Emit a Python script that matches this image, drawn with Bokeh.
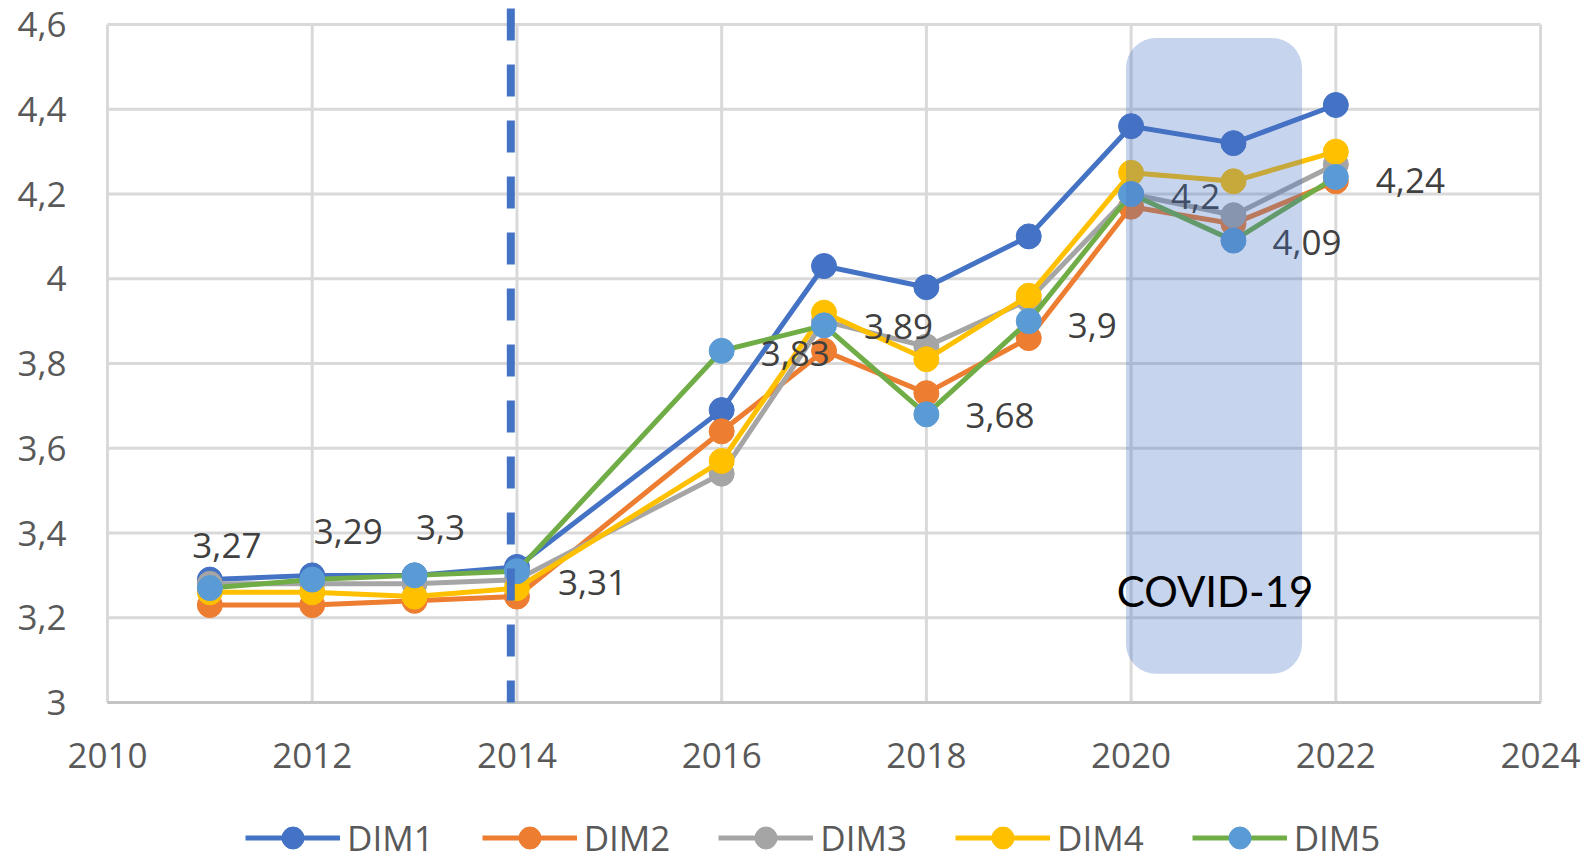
from bokeh.plotting import figure
from bokeh.models import (Range1d, FixedTicker, CustomJSTickFormatter, LinearAxis,
                          BoxAnnotation, Label, Legend, LegendItem, ColumnDataSource)
from bokeh.embed import file_html
from bokeh.resources import INLINE
from bokeh.core.properties import value

# ---------------- data ----------------
years = [2011, 2012, 2013, 2014, 2016, 2017, 2018, 2019, 2020, 2021, 2022]
dim1 = [3.29, 3.30, 3.30, 3.32, 3.69, 4.03, 3.98, 4.10, 4.36, 4.32, 4.41]
dim2 = [3.23, 3.23, 3.24, 3.25, 3.64, 3.83, 3.73, 3.86, 4.17, 4.13, 4.23]
dim3 = [3.28, 3.28, 3.28, 3.29, 3.54, 3.90, 3.84, 3.95, 4.20, 4.15, 4.27]
dim4 = [3.26, 3.26, 3.25, 3.27, 3.57, 3.92, 3.81, 3.96, 4.25, 4.23, 4.30]
dim5 = [3.27, 3.29, 3.30, 3.31, 3.83, 3.89, 3.68, 3.90, 4.20, 4.09, 4.24]
series_names = ["DIM1", "DIM2", "DIM3", "DIM4", "DIM5"]
x_ticks = [2010, 2012, 2014, 2016, 2018, 2020, 2022, 2024]
y_ticks = [3.0, 3.2, 3.4, 3.6, 3.8, 4.0, 4.2, 4.4, 4.6]
marker_year = 2014
covid_start, covid_end = 2019.95, 2021.67
covid_bottom, covid_top = 3.068, 4.568
covid_label = "COVID-19"

# ---------------- style ----------------
line_colors = ["#4472C4", "#ED7D31", "#A5A5A5", "#FFC000", "#70AD47"]
marker_colors = ["#4472C4", "#ED7D31", "#A5A5A5", "#FFC000", "#5B9BD5"]
FONT = "Open Sans"
W, H = 1589, 862
PX_X = 102.36   # px per year
PX_Y = 423.75   # px per unit
X0, Y0_TOP, Y0_BOT = 107, 24, 702   # page px of 2010, 4.6 and 3.0

x_lo = x_ticks[0] - X0 / PX_X
x_hi = x_ticks[0] + (W - X0) / PX_X
y_hi = y_ticks[-1] + Y0_TOP / PX_Y
y_lo = y_ticks[0] - (H - Y0_BOT) / PX_Y

p = figure(width=W, height=H, output_backend="svg", toolbar_location=None,
           x_range=Range1d(x_lo, x_hi), y_range=Range1d(y_lo, y_hi),
           x_axis_location=None, y_axis_location=None,
           min_border_left=0, min_border_right=0, min_border_top=0,
           min_border_bottom=0)
p.outline_line_color = None
p.xgrid.visible = False
p.ygrid.visible = False

# grid lines (segments so they stop at the 3..4.6 / 2010..2024 box)
p.segment(x0=x_ticks, x1=x_ticks, y0=[y_ticks[0]] * len(x_ticks),
          y1=[y_ticks[-1]] * len(x_ticks), line_color="#D9D9D9", line_width=3)
p.segment(x0=[x_ticks[0]] * len(y_ticks), x1=[x_ticks[-1]] * len(y_ticks),
          y0=y_ticks, y1=y_ticks, line_color="#D9D9D9", line_width=3)
p.segment(x0=[x_ticks[0]], x1=[x_ticks[-1]], y0=[y_ticks[0]], y1=[y_ticks[0]],
          line_color="#C4C4C4", line_width=3)

# axes, pinned to the plot box
xaxis = LinearAxis(fixed_location=y_ticks[0], ticker=FixedTicker(ticks=x_ticks))
yaxis = LinearAxis(fixed_location=x_ticks[0], ticker=FixedTicker(ticks=y_ticks))
yaxis.formatter = CustomJSTickFormatter(
    code="return (Math.round(tick*10)/10).toString().replace('.', ',');")
p.add_layout(xaxis, "below")
p.add_layout(yaxis, "left")
for ax in (xaxis, yaxis):
    ax.axis_line_color = None
    ax.major_tick_line_color = None
    ax.minor_tick_line_color = None
    ax.major_label_text_font = FONT
    ax.major_label_text_font_size = "35px"
    ax.major_label_text_color = "#595959"
xaxis.major_label_standoff = 34
yaxis.major_label_standoff = 35

# series
all_series = [dim1, dim2, dim3, dim4, dim5]
items = []
for name, vals, lc, mc in zip(series_names, all_series, line_colors, marker_colors):
    src = ColumnDataSource(dict(x=years, y=vals))
    r1 = p.line("x", "y", source=src, line_color=lc, line_width=5)
    r2 = p.scatter("x", "y", source=src, size=25, fill_color=mc, line_color=mc)
    items.append(LegendItem(label=name, renderers=[r1, r2]))

# data labels (DIM5 values)
labels = [f"{v:g}".replace(".", ",") for v in dim5]
dx = [17, 36, 26, 41, 39, 40, 39, 39, 40, 39, 40]
dy = [-43, -48, -48, 11, 3, 1, 1, 4, 2, 2, 3]
align = ["center", "center", "center"] + ["left"] * 8
lab_src = ColumnDataSource(dict(x=years, y=dim5, t=labels, dx=dx, dy=dy, a=align))
p.text("x", "y", text="t", source=lab_src, x_offset="dx", y_offset="dy",
       text_align="a", text_baseline="middle", text_font=value(FONT),
       text_font_size="35px", text_color="#404040")

# dashed vertical line
dash_top = y_ticks[-1] + 16 / PX_Y
p.segment(x0=[marker_year - 0.06], x1=[marker_year - 0.06], y0=[dash_top], y1=[y_ticks[0]],
          line_color="#4472C4", line_width=8, line_dash="32 24")

# covid box and label
box = BoxAnnotation(left=covid_start, right=covid_end,
                    bottom=covid_bottom, top=covid_top,
                    fill_color="#4472C4", fill_alpha=0.3, line_color=None,
                    border_radius=30)
p.add_layout(box)
p.add_layout(Label(x=(covid_start + covid_end) / 2 + 0.01, y=3.264, text=covid_label,
                   text_align="center", text_baseline="middle",
                   text_font="Lato", text_font_size="42px", text_color="black"))

legend = Legend(items=items, orientation="horizontal", location=(245, -3),
                glyph_width=95, glyph_height=55, label_standoff=7, spacing=48,
                padding=0, margin=0, border_line_color=None,
                background_fill_alpha=0, label_text_font=FONT,
                label_text_font_size="35px", label_text_color="#595959")
p.add_layout(legend, "center")

open("out.html", "w").write(file_html(p, INLINE))
